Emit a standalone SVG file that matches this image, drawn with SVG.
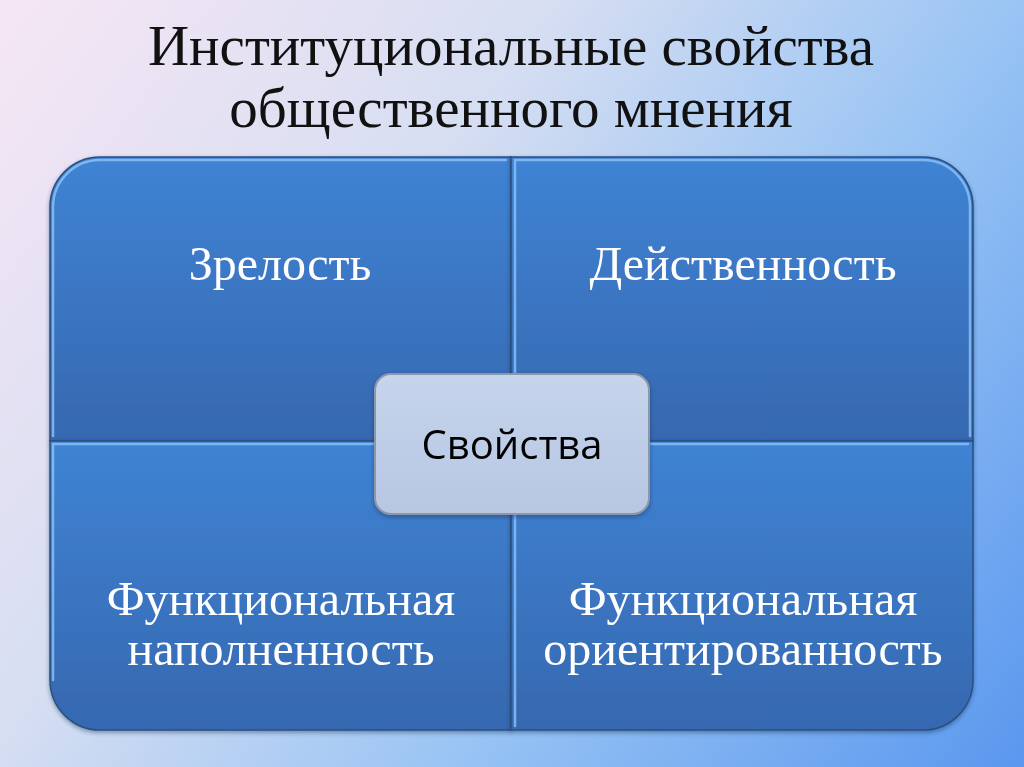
<svg xmlns="http://www.w3.org/2000/svg" width="1024" height="767" viewBox="0 0 1024 767">
<defs>
<linearGradient id="bg" x1="0" y1="0" x2="1024" y2="767" gradientUnits="userSpaceOnUse">
<stop offset="0" stop-color="#f6e6f4"/>
<stop offset="0.35" stop-color="#d6def2"/>
<stop offset="0.65" stop-color="#97c3f4"/>
<stop offset="1" stop-color="#5a97ee"/>
</linearGradient>
<linearGradient id="q" x1="0" y1="0" x2="0" y2="1">
<stop offset="0" stop-color="#3f83d4"/>
<stop offset="1" stop-color="#3668b0"/>
</linearGradient>
<linearGradient id="c" x1="0" y1="0" x2="0" y2="1">
<stop offset="0" stop-color="#c6d4ec"/>
<stop offset="1" stop-color="#b7c7e3"/>
</linearGradient>
<filter id="sh" x="-10%" y="-10%" width="120%" height="125%">
<feDropShadow dx="0" dy="2" stdDeviation="2" flood-color="#1a2f55" flood-opacity="0.45"/>
</filter>
<style>
.quad{fill:url(#q);stroke:#2b4f82;stroke-width:1.5}
.hl{fill:none;stroke:#8fc3f5;stroke-width:2.5;stroke-opacity:0.8;stroke-linecap:round}
.title{font-family:"Liberation Serif","Times New Roman",serif;font-size:57px;fill:#111;text-anchor:middle}
.qt{font-family:"Liberation Serif","Times New Roman",serif;font-size:48px;fill:#fff;text-anchor:middle}
.ct{font-family:"Open Sans","Liberation Sans",sans-serif;font-size:40px;fill:#000;text-anchor:middle}
</style>
</defs>
<rect width="1024" height="767" fill="url(#bg)"/>
<g id="title">
<text class="title" x="511" y="65">Институциональные свойства</text>
<text class="title" x="511" y="127">общественного мнения</text>
</g>
<g id="quad-tl" filter="url(#sh)">
<path class="quad" d="M50,441 V207 A50,50 0 0 1 100,157 H511 V441 Z"/>
<path class="hl" d="M53,436 V207 A47,47 0 0 1 100,160 H506"/>
<text class="qt" x="280" y="280">Зрелость</text>
</g>
<g id="quad-tr" filter="url(#sh)">
<path class="quad" d="M511,157 H923 A50,50 0 0 1 973,207 V441 H511 Z"/>
<path class="hl" d="M515,436 V160 H923 A47,47 0 0 1 970,207 V436"/>
<text class="qt" x="743" y="280">Действенность</text>
</g>
<g id="quad-bl" filter="url(#sh)">
<path class="quad" d="M50,441 H511 V730 H100 A50,50 0 0 1 50,680 Z"/>
<path class="hl" d="M53,680 V444 H506"/>
<text class="qt" x="281" y="615">Функциональная</text>
<text class="qt" x="281" y="665">наполненность</text>
</g>
<g id="quad-br" filter="url(#sh)">
<path class="quad" d="M511,441 H973 V680 A50,50 0 0 1 923,730 H511 Z"/>
<path class="hl" d="M515,726 V444 H968"/>
<text class="qt" x="743" y="615">Функциональная</text>
<text class="qt" x="743" y="665">ориентированность</text>
</g>
<g id="center" filter="url(#sh)">
<rect x="375" y="374" width="274" height="140" rx="16" fill="url(#c)" stroke="#8d97a8" stroke-width="2"/>
<text class="ct" x="512" y="459">Свойства</text>
</g>
</svg>
